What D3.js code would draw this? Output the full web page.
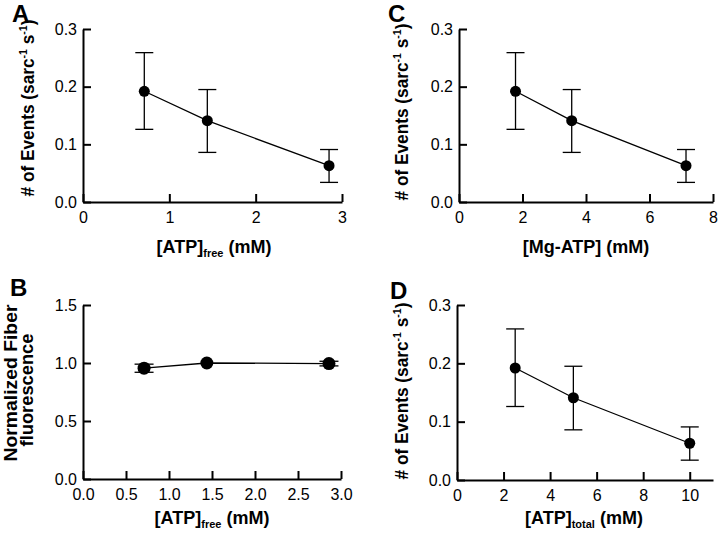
<!DOCTYPE html>
<html>
<head>
<meta charset="utf-8">
<script src="https://cdn.jsdelivr.net/npm/d3@7"></script>
<style>
  html, body { margin: 0; padding: 0; background: #fff; }
  svg { display: block; font-family: "Liberation Sans", Arial, Helvetica, sans-serif; }
</style>
</head>
<body>
<svg id="chart" width="720" height="542"></svg>
<script>
// ---- Data ----
const eventsRate = [0.192, 0.141, 0.063];
const eventsHi = [0.259, 0.195, 0.091];
const eventsLo = [0.126, 0.086, 0.034];

const atpFreeA = [0.71, 1.44, 2.85];
const mgAtp = [1.78, 3.55, 7.15];
const atpTotal = [2.5, 5.0, 10.0];

const atpFreeB = [0.71, 1.44, 2.86];
const fluor = [0.955, 1.0, 0.995];
const fluorErr = [0.035, 0.0, 0.02];

const ticksA_x = [0, 1, 2, 3];
const ticksC_x = [0, 2, 4, 6, 8];
const ticksD_x = [0, 2, 4, 6, 8, 10];
const ticksB_x = [0, 0.5, 1.0, 1.5, 2.0, 2.5, 3.0];
const ticksEvents_y = [0, 0.1, 0.2, 0.3];
const ticksB_y = [0, 0.5, 1.0, 1.5];

const svg = d3.select("#chart");

function panel(cfg) {
  const g = svg.append("g");
  const x = d3.scaleLinear().domain(cfg.xDomain).range(cfg.xRange);
  const y = d3.scaleLinear().domain(cfg.yDomain).range(cfg.yRange);

  const yAxis = d3.axisLeft(y).tickValues(cfg.yTicks).tickFormat(d3.format(cfg.yFmt))
    .tickSizeInner(-8).tickSizeOuter(0).tickPadding(6);
  const xAxis = d3.axisBottom(x).tickValues(cfg.xTicks).tickFormat(d3.format(cfg.xFmt))
    .tickSizeInner(-8).tickSizeOuter(0).tickPadding(10);

  const gy = g.append("g").attr("transform", `translate(${cfg.xRange[0]},0)`).call(yAxis);
  const gx = g.append("g").attr("transform", `translate(0,${cfg.yRange[0]})`).call(xAxis);
  [gx, gy].forEach(a => {
    a.select(".domain").attr("stroke", "#000").attr("stroke-width", 2);
    a.selectAll(".tick line").attr("stroke", "#000").attr("stroke-width", 2);
    a.selectAll(".tick text").attr("font-size", 16).attr("fill", "#000")
      .attr("font-family", "Liberation Sans, Arial, sans-serif");
  });
  gx.selectAll(".tick text").attr("dy", "0.71em");

  const pts = cfg.xs.map((v, i) => ({ x: v, y: cfg.ys[i], lo: cfg.lo[i], hi: cfg.hi[i] }));

  // connecting line
  g.append("path").datum(pts)
    .attr("fill", "none").attr("stroke", "#000").attr("stroke-width", 1.3)
    .attr("d", d3.line().x(d => x(d.x)).y(d => y(d.y)));

  // error bars
  const eb = g.selectAll(".eb").data(pts.filter(d => d.hi - d.lo > 1e-9)).enter().append("g");
  eb.append("line").attr("x1", d => x(d.x)).attr("x2", d => x(d.x))
    .attr("y1", d => y(d.lo)).attr("y2", d => y(d.hi))
    .attr("stroke", "#000").attr("stroke-width", 1.3);
  eb.append("line").attr("x1", d => x(d.x) - cfg.cap).attr("x2", d => x(d.x) + cfg.cap)
    .attr("y1", d => y(d.hi)).attr("y2", d => y(d.hi))
    .attr("stroke", "#000").attr("stroke-width", 1.3);
  eb.append("line").attr("x1", d => x(d.x) - cfg.cap).attr("x2", d => x(d.x) + cfg.cap)
    .attr("y1", d => y(d.lo)).attr("y2", d => y(d.lo))
    .attr("stroke", "#000").attr("stroke-width", 1.3);

  // markers
  g.selectAll("circle.pt").data(pts).enter().append("circle")
    .attr("cx", d => x(d.x)).attr("cy", d => y(d.y)).attr("r", cfg.r).attr("fill", "#000");

  // panel letter
  g.append("text").attr("x", cfg.letterPos[0]).attr("y", cfg.letterPos[1])
    .attr("font-size", 24).attr("font-weight", "bold").text(cfg.letter);

  // x label
  const xl = g.append("text").attr("x", cfg.xLabelPos[0]).attr("y", cfg.xLabelPos[1])
    .attr("text-anchor", "middle").attr("font-size", 18).attr("font-weight", "bold");
  cfg.xLabel.forEach(part => {
    const t = xl.append("tspan").text(part.t);
    if (part.sub) t.attr("font-size", 11).attr("dy", 4);
    if (part.after) t.attr("dy", -4);
  });

  // y label (rotated; squeezed along its length to the reference length)
  cfg.yLabelLines.forEach(line => {
    const yl = g.append("text")
      .attr("text-anchor", "middle").attr("font-size", 18).attr("font-weight", "bold");
    line.parts.forEach(part => {
      const t = yl.append("tspan").text(part.t);
      if (part.sup) t.attr("font-size", 11).attr("dy", -7);
      if (part.after) t.attr("dy", 7);
    });
    const bb = yl.node().getBBox();
    const s = line.len / bb.width;
    const cx = bb.x + bb.width / 2;
    yl.attr("transform",
      `translate(${line.x},${line.y}) rotate(-90) scale(${s},1) translate(${-cx},0)`);
  });
}

const eventsLabel = (xb, yc) => [{
  x: xb, y: yc, len: 177, parts: [
    { t: "# of Events (sarc" }, { t: "-1", sup: true }, { t: " s", after: true },
    { t: "-1", sup: true }, { t: ")", after: true }
  ]
}];

panel({
  letter: "A", letterPos: [12, 22],
  xDomain: [0, 3], xRange: [83, 342], yDomain: [0, 0.3], yRange: [202, 29],
  xTicks: ticksA_x, yTicks: ticksEvents_y, xFmt: "d", yFmt: ".1f",
  xs: atpFreeA, ys: eventsRate, lo: eventsLo, hi: eventsHi, cap: 9, r: 5.5,
  xLabel: [{ t: "[ATP]" }, { t: "free", sub: true }, { t: " (mM)", after: true }],
  xLabelPos: [214, 253],
  yLabelLines: eventsLabel(34, 108)
});

panel({
  letter: "C", letterPos: [388, 22],
  xDomain: [0, 8], xRange: [459, 713], yDomain: [0, 0.3], yRange: [202, 29],
  xTicks: ticksC_x, yTicks: ticksEvents_y, xFmt: "d", yFmt: ".1f",
  xs: mgAtp, ys: eventsRate, lo: eventsLo, hi: eventsHi, cap: 9, r: 5.5,
  xLabel: [{ t: "[Mg-ATP] (mM)" }],
  xLabelPos: [586, 253],
  yLabelLines: eventsLabel(408, 112)
});

panel({
  letter: "B", letterPos: [10, 296],
  xDomain: [0, 3], xRange: [83, 341], yDomain: [0, 1.5], yRange: [479, 305],
  xTicks: ticksB_x, yTicks: ticksB_y, xFmt: ".1f", yFmt: ".1f",
  xs: atpFreeB, ys: fluor,
  lo: fluor.map((v, i) => v - fluorErr[i]), hi: fluor.map((v, i) => v + fluorErr[i]),
  cap: 9.5, r: 6.5,
  xLabel: [{ t: "[ATP]" }, { t: "free", sub: true }, { t: " (mM)", after: true }],
  xLabelPos: [212, 524],
  yLabelLines: [
    { x: 17, y: 383, len: 157, parts: [{ t: "Normalized Fiber" }] },
    { x: 33, y: 390, len: 113, parts: [{ t: "fluorescence" }] }
  ]
});

panel({
  letter: "D", letterPos: [390, 299],
  xDomain: [0, 11], xRange: [457, 713], yDomain: [0, 0.3], yRange: [480, 305],
  xTicks: ticksD_x, yTicks: ticksEvents_y, xFmt: "d", yFmt: ".1f",
  xs: atpTotal, ys: eventsRate, lo: eventsLo, hi: eventsHi, cap: 9, r: 5.5,
  xLabel: [{ t: "[ATP]" }, { t: "total", sub: true }, { t: " (mM)", after: true }],
  xLabelPos: [584, 524],
  yLabelLines: eventsLabel(408, 391)
});
</script>
</body>
</html>
